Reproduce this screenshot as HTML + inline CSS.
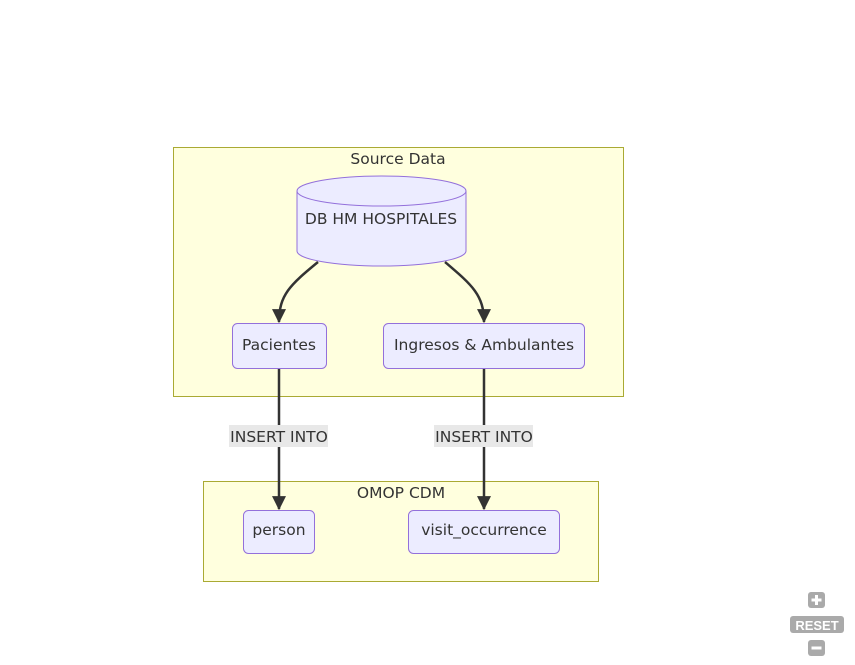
<!DOCTYPE html>
<html><head><style>
html,body{margin:0;padding:0;background:#fff;width:855px;height:665px;overflow:hidden}
svg text{font-family:"DejaVu Sans","Liberation Sans",sans-serif;fill:#333}
</style></head><body>
<svg width="855" height="665" viewBox="0 0 855 665" xmlns="http://www.w3.org/2000/svg">
<defs>
<marker id="b" viewBox="0 0 12 12" refX="11" refY="6" markerWidth="14" markerHeight="14" markerUnits="userSpaceOnUse" orient="auto"><path d="M0,0L12,6L0,12z" fill="#333"/></marker></defs>
<rect x="173.5" y="147.5" width="450" height="249" fill="#ffffde" stroke="#aaaa33"/>
<rect x="203.5" y="481.5" width="395" height="100" fill="#ffffde" stroke="#aaaa33"/>
<text x="398" y="164" font-size="15.5" text-anchor="middle">Source Data</text>
<text x="401" y="498" font-size="15.5" text-anchor="middle">OMOP CDM</text>
<path d="M297,191 L297,251 A84.5,15 0 0 0 466,251 L466,191" fill="#ececff" stroke="#9370db"/>
<ellipse cx="381.5" cy="191" rx="84.5" ry="15" fill="#ececff" stroke="#9370db"/>
<text x="381" y="224" font-size="15.5" text-anchor="middle">DB HM HOSPITALES</text>
<rect x="232.5" y="323.5" width="94" height="45" rx="5" fill="#ececff" stroke="#9370db"/>
<text x="279" y="350" font-size="15.5" text-anchor="middle">Pacientes</text>
<rect x="383.5" y="323.5" width="201" height="45" rx="5" fill="#ececff" stroke="#9370db"/>
<text x="484" y="350" font-size="15.5" text-anchor="middle">Ingresos &amp; Ambulantes</text>
<rect x="243.5" y="510.5" width="71" height="43" rx="5" fill="#ececff" stroke="#9370db"/>
<text x="279" y="535" font-size="15.5" text-anchor="middle">person</text>
<rect x="408.5" y="510.5" width="151" height="43" rx="5" fill="#ececff" stroke="#9370db"/>
<text x="484" y="535" font-size="15.5" text-anchor="middle">visit_occurrence</text>
<path d="M318,262 C290,285 279,295 279,322" fill="none" stroke="#333" stroke-width="2.5" marker-end="url(#b)"/>
<path d="M445,262 C472,285 484,295 484,322" fill="none" stroke="#333" stroke-width="2.5" marker-end="url(#b)"/>
<path d="M279,369 L279,509" fill="none" stroke="#333" stroke-width="2.5" marker-end="url(#b)"/>
<path d="M484,369 L484,509" fill="none" stroke="#333" stroke-width="2.5" marker-end="url(#b)"/>
<rect x="229" y="425" width="99" height="22" fill="#e8e8e8"/>
<text x="279" y="442" font-size="15.5" text-anchor="middle">INSERT INTO</text>
<rect x="434" y="425" width="99" height="22" fill="#e8e8e8"/>
<text x="484" y="442" font-size="15.5" text-anchor="middle">INSERT INTO</text>
<rect x="808" y="592" width="17" height="16" rx="3" fill="#aaa"/>
<path d="M816.5,595v10M811.5,600h10" stroke="#fff" stroke-width="3"/>
<rect x="790" y="616" width="54" height="17" rx="3" fill="#aaa"/>
<text x="817" y="630" font-size="13" font-weight="bold" text-anchor="middle" style="fill:#fff;font-family:'Liberation Sans',sans-serif">RESET</text>
<rect x="808" y="640" width="17" height="16" rx="3" fill="#aaa"/>
<path d="M811.5,648h10" stroke="#fff" stroke-width="3"/>
</svg>
</body></html>
